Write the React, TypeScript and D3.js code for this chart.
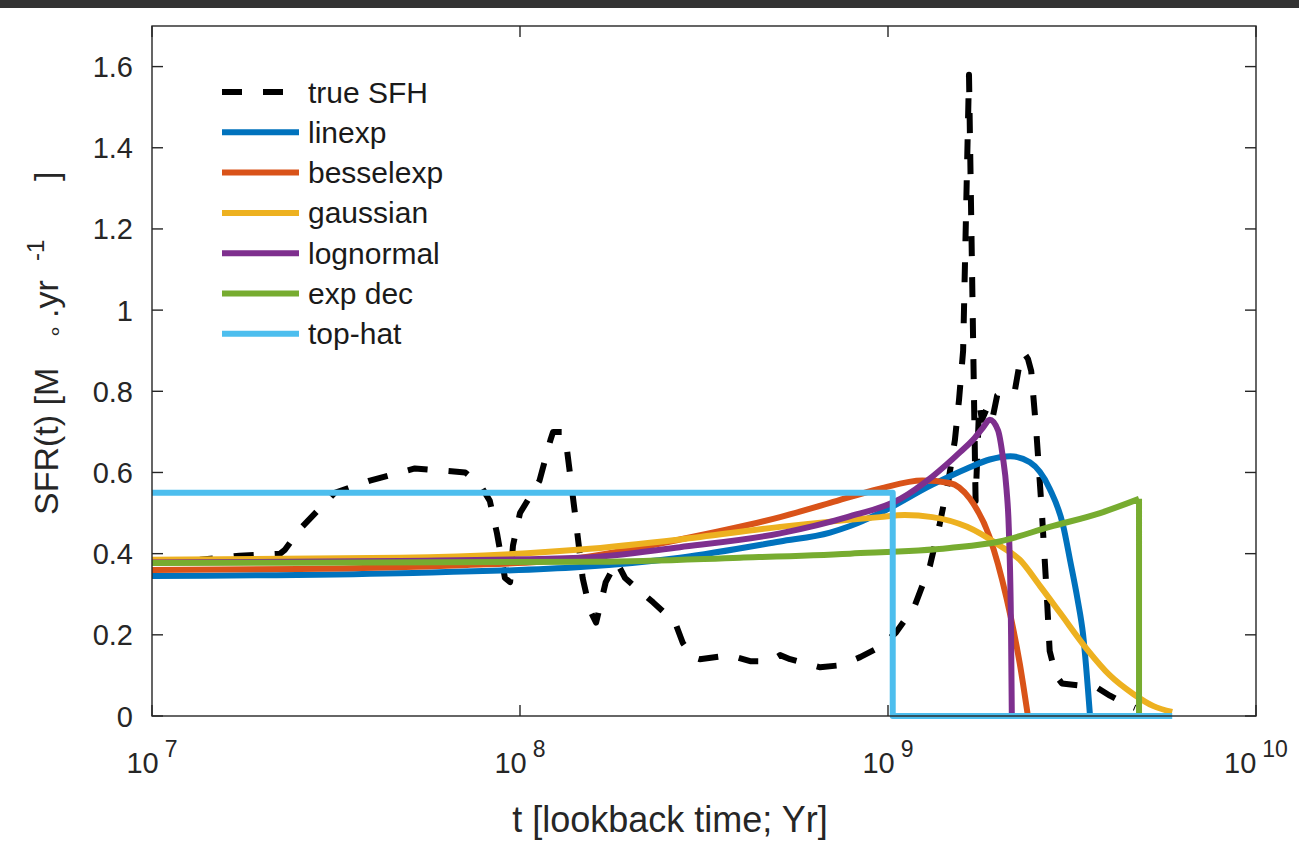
import React from "react";
import * as d3 from "d3";

// ---------- data ----------
const X_TICKS = [1e7, 1e8, 1e9, 1e10];
const X_TICK_EXPONENTS = ["7", "8", "9", "10"];
const Y_TICKS = [0, 0.2, 0.4, 0.6, 0.8, 1, 1.2, 1.4, 1.6];
const Y_TICK_LABELS = ["0", "0.2", "0.4", "0.6", "0.8", "1", "1.2", "1.4", "1.6"];

const SERIES_NAMES = ["true SFH", "linexp", "besselexp", "gaussian", "lognormal", "exp dec", "top-hat"];
const SERIES_COLORS = ["#000000", "#0072BD", "#D95319", "#EDB120", "#7E2F8E", "#77AC30", "#4DBEEE"];

// true SFH (black dashed)
const TRUE_T = [
  1.0e7, 1.35e7, 1.73e7, 2.23e7, 2.3e7, 2.52e7, 3.14e7, 3.91e7, 5.18e7, 6.07e7, 7.1e7, 7.79e7, 8.28e7,
  8.66e7, 9.1e7, 9.4e7, 9.57e7, 1.0e8, 1.13e8, 1.21e8, 1.23e8, 1.3e8, 1.34e8, 1.41e8, 1.48e8, 1.55e8,
  1.61e8, 1.71e8, 1.83e8, 1.93e8, 2.3e8, 2.64e8, 2.77e8, 2.95e8, 3.08e8, 3.72e8, 4.22e8, 4.78e8, 5.09e8,
  5.42e8, 6.54e8, 7.41e8, 8.4e8, 9.51e8, 1.05e9, 1.18e9, 1.3e9, 1.38e9, 1.46e9, 1.52e9, 1.56e9, 1.6e9,
  1.66e9, 1.73e9, 1.77e9, 1.8e9, 1.86e9, 1.92e9, 1.98e9, 2.05e9, 2.15e9, 2.21e9, 2.28e9, 2.34e9, 2.4e9,
  2.45e9, 2.53e9, 2.62e9, 2.7e9, 2.75e9, 2.86e9, 2.97e9, 3.33e9, 3.7e9, 4.01e9, 4.41e9, 4.69e9,
];
const TRUE_V = [
  0.38, 0.385, 0.395, 0.4, 0.41, 0.46, 0.55, 0.58, 0.61, 0.605, 0.6, 0.57, 0.53,
  0.45, 0.34, 0.33, 0.42, 0.5, 0.58, 0.68, 0.7, 0.7, 0.66, 0.5, 0.34, 0.26,
  0.23, 0.33, 0.38, 0.34, 0.28, 0.23, 0.18, 0.145, 0.14, 0.15, 0.135, 0.135, 0.15,
  0.14, 0.12, 0.125, 0.145, 0.17, 0.205, 0.27, 0.37, 0.47, 0.58, 0.68, 0.78, 0.9,
  1.58, 0.53, 0.77, 0.73, 0.76, 0.73, 0.79, 0.8, 0.8, 0.8, 0.87, 0.895, 0.88,
  0.85, 0.7, 0.5, 0.3, 0.16, 0.1, 0.08, 0.075, 0.07, 0.05, 0.03, 0.02,
];

// linexp (blue)
const LINEXP_T = [1.0e7, 4.72e7, 1.46e8, 2.72e8, 5.09e8, 6.96e8, 7.89e8, 9.51e8, 1.32e9, 1.64e9, 1.89e9, 2.15e9, 2.43e9, 2.75e9, 2.99e9, 3.13e9, 3.27e9, 3.39e9, 3.54e9];
const LINEXP_V = [0.345, 0.352, 0.367, 0.39, 0.43, 0.452, 0.468, 0.5, 0.57, 0.61, 0.632, 0.64, 0.625, 0.56, 0.47, 0.38, 0.29, 0.2, 0.0];

// besselexp (orange)
const BESSEL_T = [1.0e7, 2.52e7, 7.18e7, 1.13e8, 1.46e8, 2.72e8, 5.09e8, 6.96e8, 9.51e8, 1.24e9, 1.47e9, 1.67e9, 1.89e9, 2.1e9, 2.28e9, 2.4e9];
const BESSEL_V = [0.36, 0.362, 0.372, 0.38, 0.39, 0.435, 0.49, 0.525, 0.56, 0.58, 0.574, 0.535, 0.44, 0.29, 0.13, 0.0];

// gaussian (yellow)
const GAUSS_T = [1.0e7, 4.72e7, 1.46e8, 2.72e8, 5.09e8, 9.51e8, 1.11e9, 1.32e9, 1.64e9, 2.01e9, 2.28e9, 2.59e9, 2.93e9, 3.47e9, 4.01e9, 4.63e9, 5.25e9, 5.92e9];
const GAUSS_V = [0.385, 0.39, 0.41, 0.435, 0.466, 0.49, 0.495, 0.49, 0.466, 0.42, 0.385, 0.32, 0.255, 0.165, 0.1, 0.055, 0.025, 0.01];

// lognormal (purple)
const LOGN_T = [1.0e7, 4.72e7, 1.46e8, 2.72e8, 5.09e8, 7.74e8, 1.08e9, 1.32e9, 1.57e9, 1.72e9, 1.81e9, 1.89e9, 1.99e9, 2.05e9, 2.1e9, 2.13e9, 2.16e9, 2.17e9];
const LOGN_V = [0.378, 0.382, 0.39, 0.416, 0.45, 0.49, 0.535, 0.59, 0.65, 0.685, 0.71, 0.73, 0.704, 0.64, 0.557, 0.46, 0.2, 0.0];

// exp dec (green) – ends with a vertical drop to 0
const EXPDEC_T = [1.0e7, 1.65e8, 3.96e8, 7.89e8, 1.47e9, 2.01e9, 2.75e9, 3.77e9, 4.81e9, 4.81e9];
const EXPDEC_V = [0.377, 0.38, 0.39, 0.4, 0.414, 0.43, 0.466, 0.5, 0.535, 0.0];

// top-hat (cyan)
const TOPHAT_T = [1.0e7, 1.03e9, 1.03e9, 5.92e9];
const TOPHAT_V = [0.55, 0.55, 0.0, 0.0];

type P = [number, number];
const zip = (ts: number[], vs: number[]): P[] => ts.map((t, i) => [t, vs[i]] as P);

export default function App() {
  const W = 1299;
  const H = 849;
  const L = 152, R = 1256, T = 26, B = 716;
  const x = d3.scaleLog().domain([1e7, 1e10]).range([L, R]);
  const y = d3.scaleLinear().domain([0, 1.7]).range([B, T]);

  const smooth = d3.line<P>().x((d) => x(d[0])).y((d) => y(d[1])).curve(d3.curveMonotoneX);
  const straight = d3.line<P>().x((d) => x(d[0])).y((d) => y(d[1]));

  const truePts = zip(TRUE_T, TRUE_V);
  const linexp = zip(LINEXP_T, LINEXP_V);
  const bessel = zip(BESSEL_T, BESSEL_V);
  const gauss = zip(GAUSS_T, GAUSS_V);
  const logn = zip(LOGN_T, LOGN_V);
  const expdec = zip(EXPDEC_T, EXPDEC_V);
  const tophat = zip(TOPHAT_T, TOPHAT_V);

  const expSmooth = expdec.slice(0, expdec.length - 1);
  const expDrop = expdec.slice(expdec.length - 2);

  const axisColor = "#262626";
  const font = "'Liberation Sans', Arial, Helvetica, sans-serif";
  const lw = 6;
  const tickLen = 11;

  const legendX0 = 222, legendX1 = 299, legendTextX = 308, legendY0 = 92, legendDy = 40.3;

  return (
    <svg width={W} height={H} style={{ position: "absolute", left: 0, top: 0, background: "#fff" }} fontFamily={font}>
      <rect x={0} y={0} width={W} height={H} fill="#ffffff" />
      <rect x={0} y={0} width={W} height={8} fill="#333333" />
      <defs>
        <clipPath id="plotclip">
          <rect x={L} y={T} width={R - L} height={B - T + 4} />
        </clipPath>
      </defs>

      {/* data */}
      <g clipPath="url(#plotclip)" fill="none" strokeLinejoin="round">
        <path d={straight(truePts) || ""} stroke={SERIES_COLORS[0]} strokeWidth={lw} strokeDasharray="20 21" />
        <path d={smooth(linexp) || ""} stroke={SERIES_COLORS[1]} strokeWidth={lw} />
        <path d={smooth(bessel) || ""} stroke={SERIES_COLORS[2]} strokeWidth={lw} />
        <path d={smooth(gauss) || ""} stroke={SERIES_COLORS[3]} strokeWidth={lw} />
        <path d={smooth(logn) || ""} stroke={SERIES_COLORS[4]} strokeWidth={lw} />
        <path d={(smooth(expSmooth) || "") + (straight(expDrop) || "")} stroke={SERIES_COLORS[5]} strokeWidth={lw} />
        <path d={straight(tophat) || ""} stroke={SERIES_COLORS[6]} strokeWidth={lw} />
      </g>

      {/* axes box */}
      <rect x={L} y={T} width={R - L} height={B - T} fill="none" stroke={axisColor} strokeWidth={1.4} />
      {X_TICKS.map((t, i) => (
        <g key={"xt" + i}>
          <line x1={x(t)} x2={x(t)} y1={B} y2={B - tickLen} stroke={axisColor} strokeWidth={1.4} />
          <line x1={x(t)} x2={x(t)} y1={T} y2={T + tickLen} stroke={axisColor} strokeWidth={1.4} />
          <text x={x(t)} y={773} textAnchor="middle" fontSize={29} fill={axisColor}>
            10
            <tspan dx={6} dy={-16} fontSize={23}>{X_TICK_EXPONENTS[i]}</tspan>
          </text>
        </g>
      ))}
      {Y_TICKS.map((v, i) => (
        <g key={"yt" + i}>
          <line x1={L} x2={L + tickLen} y1={y(v)} y2={y(v)} stroke={axisColor} strokeWidth={1.4} />
          <line x1={R} x2={R - tickLen} y1={y(v)} y2={y(v)} stroke={axisColor} strokeWidth={1.4} />
          <text x={133} y={y(v) + 10.5} textAnchor="end" fontSize={29} fill={axisColor}>
            {Y_TICK_LABELS[i]}
          </text>
        </g>
      ))}

      {/* axis labels */}
      <text x={670} y={832} textAnchor="middle" fontSize={36} fill={axisColor}>
        t [lookback time; Yr]
      </text>
      <g transform="translate(58,515) rotate(-90)">
        <text x={0} y={0} fontSize={34} fill={axisColor}>
          <tspan x={0} y={0}>SFR(t) [M</tspan>
          <tspan x={176} y={5} fontSize={24}>∘</tspan>
          <tspan x={197} y={0}>.yr</tspan>
          <tspan x={254} y={-14} fontSize={24}>-1</tspan>
          <tspan x={334} y={0}>]</tspan>
        </text>
      </g>

      {/* legend */}
      {SERIES_NAMES.map((name, i) => {
        const cy = legendY0 + i * legendDy;
        return (
          <g key={"lg" + i}>
            <line
              x1={legendX0}
              x2={legendX1}
              y1={cy}
              y2={cy}
              stroke={SERIES_COLORS[i]}
              strokeWidth={lw}
              strokeDasharray={i === 0 ? "20 21" : undefined}
            />
            <text x={legendTextX} y={cy + 10.5} fontSize={30} fill="#1a1a1a">
              {name}
            </text>
          </g>
        );
      })}
    </svg>
  );
}
